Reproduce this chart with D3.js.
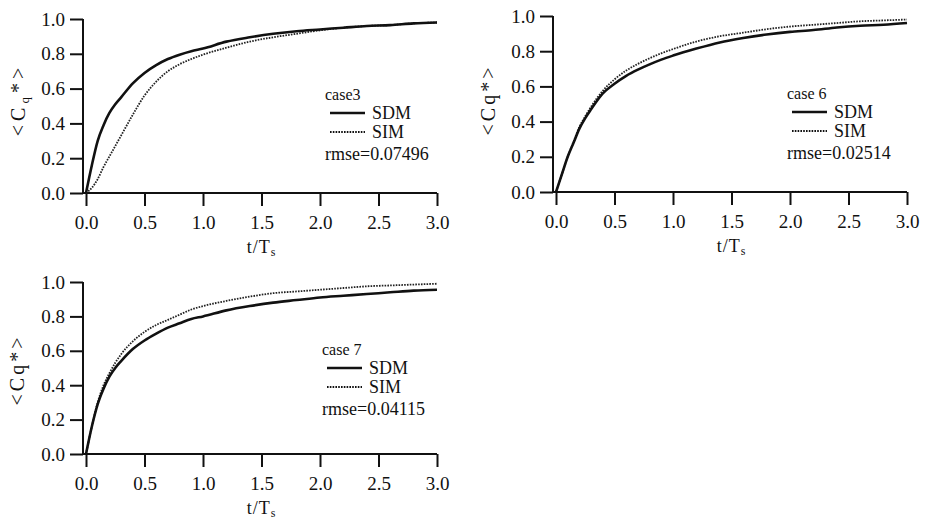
<!DOCTYPE html>
<html>
<head>
<meta charset="utf-8">
<script src="https://cdn.jsdelivr.net/npm/d3@7"></script>
<style>
  body { margin: 0; background: #fff; }
  svg { display: block; }
</style>
</head>
<body>
<svg id="chart" width="925" height="519"></svg>
<script>
// Normalised time samples shared by all three cases
const tValues = [0, 0.05, 0.1, 0.15, 0.2, 0.25, 0.3, 0.4, 0.5, 0.6, 0.7, 0.8, 0.9, 1.0,
                 1.2, 1.4, 1.6, 1.8, 2.0, 2.2, 2.4, 2.6, 2.8, 3.0];

// case3
const case3SDM = [0, 0.16, 0.30, 0.39, 0.46, 0.51, 0.55, 0.63, 0.69, 0.735, 0.77, 0.795, 0.815, 0.83,
                  0.87, 0.895, 0.915, 0.93, 0.94, 0.95, 0.96, 0.965, 0.975, 0.98];
const case3SIM = [0, 0.03, 0.08, 0.15, 0.21, 0.27, 0.33, 0.45, 0.56, 0.64, 0.70, 0.74, 0.77, 0.795,
                  0.835, 0.87, 0.895, 0.915, 0.935, 0.95, 0.96, 0.965, 0.975, 0.98];
// case 6
const case6SDM = [0, 0.10, 0.20, 0.28, 0.36, 0.42, 0.47, 0.56, 0.615, 0.66, 0.695, 0.725, 0.752, 0.775,
                  0.815, 0.85, 0.875, 0.895, 0.91, 0.92, 0.935, 0.945, 0.95, 0.96];
const case6SIM = [0, 0.10, 0.20, 0.285, 0.37, 0.43, 0.485, 0.575, 0.64, 0.69, 0.728, 0.76, 0.788, 0.812,
                  0.855, 0.885, 0.905, 0.925, 0.94, 0.95, 0.96, 0.97, 0.975, 0.98];
// case 7
const case7SDM = [0, 0.16, 0.29, 0.38, 0.45, 0.50, 0.54, 0.61, 0.66, 0.70, 0.735, 0.76, 0.785, 0.80,
                  0.835, 0.86, 0.88, 0.895, 0.91, 0.92, 0.93, 0.94, 0.95, 0.955];
const case7SIM = [0, 0.16, 0.30, 0.40, 0.47, 0.53, 0.58, 0.655, 0.71, 0.75, 0.78, 0.81, 0.84, 0.86,
                  0.89, 0.915, 0.935, 0.945, 0.955, 0.965, 0.975, 0.98, 0.985, 0.99];

const xTicks = [0, 0.5, 1.0, 1.5, 2.0, 2.5, 3.0];
const yTicks = [0, 0.2, 0.4, 0.6, 0.8, 1.0];
const seriesNames = ["SDM", "SIM"];

const panels = [
  { caseLabel: "case3",  rmse: "rmse=0.07496", sdm: case3SDM, sim: case3SIM, sub: true,
    left: 86, right: 437, top: 19, bottom: 193, legX: 325, legY: 94, titleX: 18, titleY: 100 },
  { caseLabel: "case 6", rmse: "rmse=0.02514", sdm: case6SDM, sim: case6SIM, sub: false,
    left: 556, right: 907, top: 16, bottom: 192, legX: 787, legY: 93, titleX: 488, titleY: 100 },
  { caseLabel: "case 7", rmse: "rmse=0.04115", sdm: case7SDM, sim: case7SIM, sub: false,
    left: 86, right: 437, top: 282, bottom: 454, legX: 322, legY: 349, titleX: 17, titleY: 370 }
];

const FONT = "Liberation Serif";
const INK = "#111";
const svg = d3.select("#chart");
const fmt = d3.format(".1f");

function txt(sel, size) {
  return sel.style("font-family", FONT).style("font-size", size + "px").attr("fill", INK);
}

panels.forEach(p => {
  const x = d3.scaleLinear().domain([0, 3]).range([p.left, p.right]);
  const y = d3.scaleLinear().domain([0, 1]).range([p.bottom, p.top]);
  const g = svg.append("g");
  const axisX0 = p.left - 3;

  // x axis
  const gx = g.append("g")
    .attr("transform", `translate(0,${p.bottom})`)
    .call(d3.axisBottom(x).tickValues(xTicks).tickFormat(fmt).tickSize(13).tickPadding(10).tickSizeOuter(0));
  gx.select(".domain").remove();
  g.append("line")
    .attr("x1", axisX0).attr("x2", p.right)
    .attr("y1", p.bottom).attr("y2", p.bottom)
    .attr("stroke", INK).attr("stroke-width", 2);

  // y axis
  const gy = g.append("g")
    .attr("transform", `translate(${axisX0},0)`)
    .call(d3.axisLeft(y).tickValues(yTicks).tickFormat(fmt).tickSize(13).tickPadding(5).tickSizeOuter(0));
  gy.select(".domain").remove();
  g.append("line")
    .attr("x1", axisX0).attr("x2", axisX0)
    .attr("y1", p.top).attr("y2", p.bottom)
    .attr("stroke", INK).attr("stroke-width", 2);

  [gx, gy].forEach(a => {
    a.attr("font-family", FONT);
    a.selectAll(".tick line").attr("stroke", INK).attr("stroke-width", 2);
    txt(a.selectAll(".tick text"), 19);
  });

  // curves
  const line = d3.line()
    .x((d, i) => x(tValues[i]))
    .y(d => y(d))
    .curve(d3.curveMonotoneX);

  g.append("path").datum(p.sim)
    .attr("d", line).attr("fill", "none")
    .attr("stroke", "#222").attr("stroke-width", 1.8)
    .attr("stroke-dasharray", "1.6,1.2");
  g.append("path").datum(p.sdm)
    .attr("d", line).attr("fill", "none")
    .attr("stroke", INK).attr("stroke-width", 2.6);

  // legend
  const lg = g.append("g").attr("transform", `translate(${p.legX},${p.legY})`);
  txt(lg.append("text"), 16).attr("x", 0).attr("y", 0).attr("dy", "0.35em").text(p.caseLabel);
  seriesNames.forEach((name, i) => {
    const yy = 19 + i * 19;
    lg.append("line")
      .attr("x1", 5).attr("x2", 40).attr("y1", yy).attr("y2", yy)
      .attr("stroke", INK)
      .attr("stroke-width", i === 0 ? 2.6 : 1.8)
      .attr("stroke-dasharray", i === 0 ? null : "1.6,1.2");
    txt(lg.append("text"), 18).attr("x", 47).attr("y", yy).attr("dy", "0.35em").text(name);
  });
  txt(lg.append("text"), 18).attr("x", 0).attr("y", 60).attr("dy", "0.35em").text(p.rmse);

  // axis titles
  const xt = txt(g.append("text"), 18)
    .attr("x", (p.left + p.right) / 2).attr("y", p.bottom + 60)
    .attr("text-anchor", "middle").style("letter-spacing", "1px");
  xt.append("tspan").text("t/T");
  xt.append("tspan").attr("dy", 3).style("font-size", "12px").text("s");

  const yt = txt(g.append("text"), 20)
    .attr("transform", `translate(${p.titleX},${p.titleY}) rotate(-90)`)
    .attr("text-anchor", "middle").attr("dy", "0.35em")
    .style("letter-spacing", p.sub ? "4px" : "3px");
  if (p.sub) {
    yt.append("tspan").text("<C");
    yt.append("tspan").attr("dy", 4).style("font-size", "13px").text("q");
    yt.append("tspan").attr("dy", -4).text("*>");
  } else {
    yt.text("<Cq*>");
  }
});
</script>
</body>
</html>
